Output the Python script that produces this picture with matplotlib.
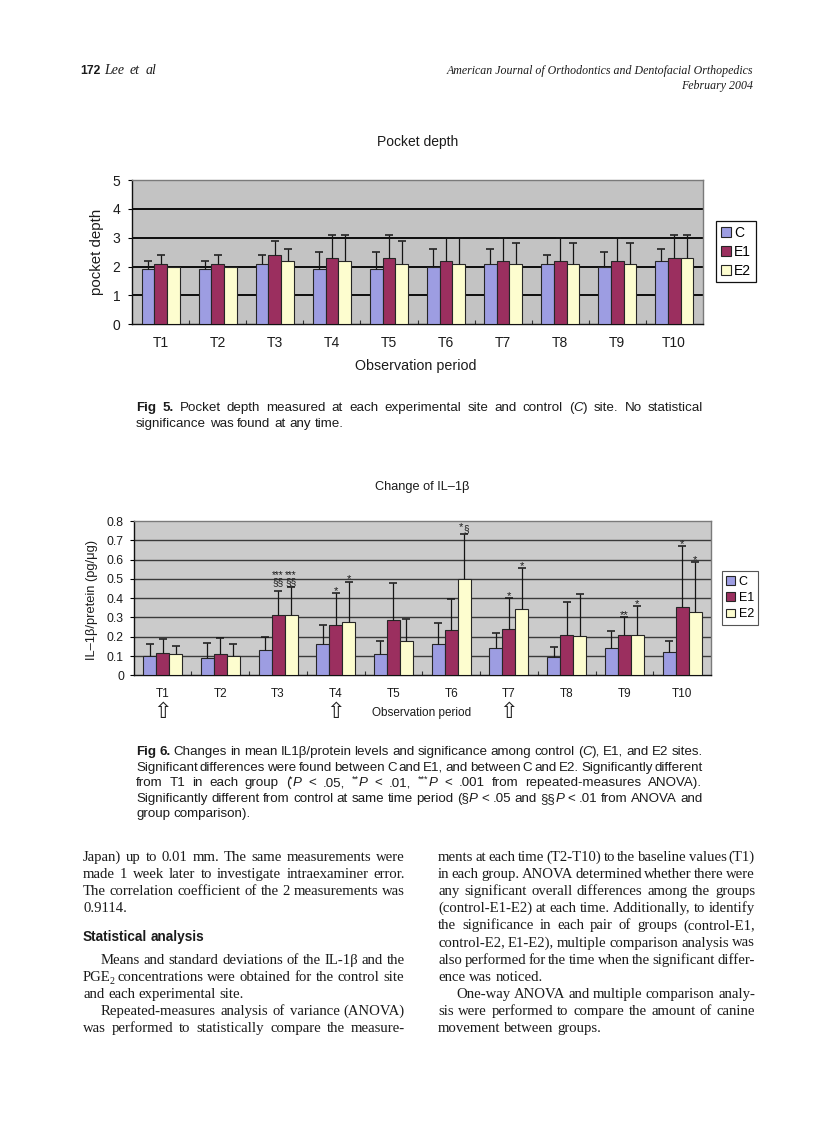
import re
import numpy as np
import matplotlib
matplotlib.use("Agg")
import matplotlib.pyplot as plt

# ---------------- data ----------------
periods = ["T1", "T2", "T3", "T4", "T5", "T6", "T7", "T8", "T9", "T10"]
groups = ["C", "E1", "E2"]

# Fig 5: pocket depth (mm)
pd_C = [1.9, 1.9, 2.1, 1.9, 1.9, 2.0, 2.1, 2.1, 2.0, 2.2]
pd_E1 = [2.1, 2.1, 2.4, 2.3, 2.3, 2.2, 2.2, 2.2, 2.2, 2.3]
pd_E2 = [2.0, 2.0, 2.2, 2.2, 2.1, 2.1, 2.1, 2.1, 2.1, 2.3]
pd_C_sd = [0.3, 0.3, 0.3, 0.6, 0.6, 0.6, 0.5, 0.3, 0.5, 0.4]
pd_E1_sd = [0.3, 0.3, 0.5, 0.8, 0.8, 0.8, 0.8, 0.8, 0.8, 0.8]
pd_E2_sd = [0.0, 0.0, 0.4, 0.9, 0.8, 0.9, 0.7, 0.7, 0.7, 0.8]
pd_yticks = [0, 1, 2, 3, 4, 5]

# Fig 6: IL-1beta / protein (pg/ug)
il_C = [0.10, 0.09, 0.13, 0.16, 0.11, 0.16, 0.14, 0.095, 0.14, 0.12]
il_E1 = [0.115, 0.11, 0.315, 0.26, 0.285, 0.235, 0.24, 0.21, 0.21, 0.355]
il_E2 = [0.11, 0.10, 0.315, 0.275, 0.18, 0.50, 0.345, 0.205, 0.21, 0.33]
il_C_sd = [0.06, 0.08, 0.07, 0.10, 0.07, 0.11, 0.08, 0.05, 0.09, 0.06]
il_E1_sd = [0.075, 0.085, 0.12, 0.165, 0.195, 0.16, 0.16, 0.17, 0.09, 0.315]
il_E2_sd = [0.04, 0.06, 0.145, 0.21, 0.11, 0.235, 0.21, 0.215, 0.15, 0.255]
il_yticks = [0, 0.1, 0.2, 0.3, 0.4, 0.5, 0.6, 0.7, 0.8]
il_yticklabels = ["0", "0.1", "0.2", "0.3", "0.4", "0.5", "0.6", "0.7", "0.8"]
# significance marks: (period index, group index, stars, section marks)
il_marks = [(2, 1, "***", "§§"), (2, 2, "***", "§§"),
            (3, 1, "*", ""), (3, 2, "*", ""),
            (5, 2, "*", "§"),
            (6, 1, "*", ""), (6, 2, "*", ""),
            (8, 1, "**", ""), (8, 2, "*", ""),
            (9, 1, "*", ""), (9, 2, "*", "")]
arrow_periods = [0, 3, 6]

# ---------------- page ----------------
W, H = 838, 1122
fig = plt.figure(figsize=(W / 100, H / 100), dpi=100)
fig.patch.set_facecolor("white")
renderer = fig.canvas.get_renderer()
PX = 100 / 72.0

COLORS = ["#9d9de2", "#9b2f5f", "#fdfdcf"]
CHART_FONT = ["Liberation Sans", "DejaVu Sans"]
SERIF = ["Liberation Serif", "DejaVu Serif"]
SANS = ["Liberation Sans", "DejaVu Sans"]
TXT = "#1b1b1b"


def rect(l, t, r, b):
    return [l / W, 1 - b / H, (r - l) / W, (b - t) / H]


def bar_chart(ax, vals, sds, bg, fs):
    x = np.arange(len(periods))
    w = 0.225
    ax.set_facecolor(bg)
    for k in range(3):
        v = np.array(vals[k], float)
        s = np.array(sds[k], float)
        xs = x + (k - 1) * w
        ax.bar(xs, v, w, color=COLORS[k], edgecolor="#262626", lw=0.8,
               label=groups[k], zorder=3)
        m = s > 0
        ax.vlines(xs[m], v[m], (v + s)[m], color="#151515", lw=0.9, zorder=4)
        ax.plot(xs[m], (v + s)[m], ls="none", marker="_", ms=6, mew=1.1,
                color="#151515", zorder=4)
    ax.set_xlim(-0.5, len(periods) - 0.5)
    for sp in ["left", "bottom"]:
        ax.spines[sp].set_color("#111111")
        ax.spines[sp].set_linewidth(1.0)
    for sp in ["top", "right"]:
        ax.spines[sp].set_color("#7a7a7a")
        ax.spines[sp].set_linewidth(1.0)
    ax.set_xticks(x)
    ax.set_xticklabels(periods)
    ax.set_xticks(np.arange(0.5, len(periods) - 0.5), minor=True)
    ax.tick_params(axis="x", which="major", length=0, labelsize=fs,
                   labelcolor=TXT)
    ax.tick_params(axis="x", which="minor", direction="in", length=3,
                   width=0.8, color="#333333")
    return x, w


# ---------------- Fig 5 ----------------
ax1 = fig.add_axes(rect(132.3, 180, 702.7, 324.3))
bar_chart(ax1, [pd_C, pd_E1, pd_E2], [pd_C_sd, pd_E1_sd, pd_E2_sd],
          "#c3c3c3", 10)
for yv in pd_yticks[1:-1]:
    ax1.axhline(yv, color="#0d0d0d", lw=1.4, zorder=1)
ax1.set_ylim(0, 5)
ax1.set_yticks(pd_yticks)
ax1.tick_params(axis="y", length=3, width=0.8, pad=5.5, labelsize=10,
                labelcolor=TXT)
ax1.tick_params(axis="x", which="major", pad=8.5)
for lab in ax1.get_xticklabels() + ax1.get_yticklabels():
    lab.set_family(CHART_FONT)
ax1.set_xlabel("Observation period", fontsize=10.3, family=CHART_FONT,
               color=TXT, va="center")
ax1.xaxis.set_label_coords(0.497, -0.289)
ax1.set_ylabel("pocket depth", fontsize=10.8, family=CHART_FONT,
               color=TXT, va="center")
ax1.yaxis.set_label_coords(-0.062, 0.5)
ax1.set_title("Pocket depth", fontsize=10, family=CHART_FONT, color=TXT,
              y=1.263, va="center", pad=0)
leg1 = ax1.legend(loc="center left", bbox_to_anchor=(1.0233, 0.503),
                  prop={"family": CHART_FONT, "size": 10},
                  frameon=True, fancybox=False, framealpha=1,
                  edgecolor="#111111", handlelength=0.75, handleheight=0.75,
                  handletextpad=0.2, borderpad=0.35, labelspacing=0.35,
                  borderaxespad=0)
leg1.get_frame().set_linewidth(0.9)

# ---------------- Fig 6 ----------------
ax2 = fig.add_axes(rect(133.7, 521, 711, 675.3))
il_vals = [il_C, il_E1, il_E2]
il_sds = [il_C_sd, il_E1_sd, il_E2_sd]
x2, w2 = bar_chart(ax2, il_vals, il_sds, "#cbcbcb", 8.5)
for yv in il_yticks[1:-1]:
    ax2.axhline(yv, color="#3a3a3a", lw=1.0, zorder=1)
ax2.set_ylim(0, 0.8)
ax2.set_yticks(il_yticks)
ax2.set_yticklabels(il_yticklabels)
ax2.tick_params(axis="y", length=3, width=0.8, pad=4, labelsize=8.7,
                labelcolor=TXT)
ax2.tick_params(axis="x", which="major", pad=9)
for lab in ax2.get_xticklabels() + ax2.get_yticklabels():
    lab.set_family(CHART_FONT)
ax2.set_xlabel("Observation period", fontsize=8.5, family=CHART_FONT,
               color=TXT, va="center")
ax2.xaxis.set_label_coords(0.499, -0.244)
ax2.set_ylabel("IL–1β/pretein (pg/μg)", fontsize=9.3, family=CHART_FONT,
               color=TXT, va="center")
ax2.yaxis.set_label_coords(-0.072, 0.488)
ax2.set_title("Change of IL–1β", fontsize=9.2, family=CHART_FONT, color=TXT,
              y=1.22, va="center", pad=0)
leg2 = ax2.legend(loc="center left", bbox_to_anchor=(1.0185, 0.501),
                  prop={"family": CHART_FONT, "size": 9},
                  frameon=True, fancybox=False, framealpha=1,
                  edgecolor="#555555", handlelength=0.7, handleheight=0.7,
                  handletextpad=0.3, borderpad=0.35, labelspacing=0.35,
                  borderaxespad=0)
leg2.get_frame().set_linewidth(0.8)

# significance marks
STAR_FS = 8.2
for (pi, gi, stars, secs) in il_marks:
    xx = x2[pi] + (gi - 1) * w2
    top = il_vals[gi][pi] + il_sds[gi][pi]
    if stars and secs and len(secs) == 1:
        ax2.annotate(stars, (xx, top), xytext=(-2.5, 4.3),
                     textcoords="offset points", ha="center", va="center",
                     fontsize=STAR_FS, color=TXT, family=CHART_FONT)
        ax2.annotate(secs, (xx, top), xytext=(1.8, 3.4),
                     textcoords="offset points", ha="center", va="center",
                     fontsize=7.2, color=TXT, family=CHART_FONT)
    elif secs:
        # marks at this period share one level, above the highest bar
        lvl = max(il_vals[g][pi] + il_sds[g][pi]
                  for (p2, g, s2, c2) in il_marks if p2 == pi)
        ax2.annotate(stars + "\n" + secs, (xx, lvl), xytext=(0, 6.0),
                     textcoords="offset points", ha="center", va="center",
                     multialignment="center", linespacing=0.62,
                     fontsize=7.2, color=TXT, family=CHART_FONT)
    else:
        ax2.annotate(stars, (xx, top), xytext=(0, 1.6),
                     textcoords="offset points", ha="center", va="center",
                     fontsize=STAR_FS, color=TXT, family=CHART_FONT)

# hollow up arrows under T1, T4, T7
for pi in arrow_periods:
    ax2.text(x2[pi], -0.240, "⇧", transform=ax2.get_xaxis_transform(),
             ha="center", va="center", fontsize=16, color="#222222",
             family=["DejaVu Sans"])


# ---------------- rich text helpers ----------------
def parse(s):
    toks = re.split(r"(\{/?(?:b|i|sup|sub)\})", s)
    st = {"b": False, "i": False, "sup": False, "sub": False}
    chars = []
    for tok in toks:
        m = re.fullmatch(r"\{(/?)(b|i|sup|sub)\}", tok)
        if m:
            st[m.group(2)] = (m.group(1) == "")
            continue
        for ch in tok:
            chars.append((ch, (st["b"], st["i"], st["sup"], st["sub"])))
    words, cur = [], []
    for ch, s_ in chars:
        if ch == " ":
            if cur:
                words.append(cur)
                cur = []
        else:
            cur.append((ch, s_))
    if cur:
        words.append(cur)
    out = []
    for wd in words:
        runs = []
        for ch, s_ in wd:
            if runs and runs[-1][1] == s_:
                runs[-1][0] += ch
            else:
                runs.append([ch, s_])
        out.append(runs)
    return out


def put(x, y, txt, st, size, family, color):
    b, i, sup, sub = st
    fs = size * 0.68 if (sup or sub) else size
    dy = -size * 0.36 * PX if sup else (size * 0.18 * PX if sub else 0)
    return fig.text(x / W, 1 - (y + dy) / H, txt, fontsize=fs,
                    fontweight="bold" if b else "normal",
                    fontstyle="italic" if i else "normal",
                    family=family, va="baseline", ha="left", color=color)


def line(s, x0, x1, y, justify, size, family, color=TXT, space=0.25):
    words = parse(s)
    objs, widths = [], []
    for wd in words:
        lst, tot = [], 0.0
        for txt, st in wd:
            t = put(0, y, txt, st, size, family, color)
            ww = t.get_window_extent(renderer).width
            if st[3]:
                ww = max(ww - 1.0, 0)
            lst.append((t, ww))
            tot += ww
        objs.append(lst)
        widths.append(tot)
    n = len(words)
    if justify and n > 1:
        gap = (x1 - x0 - sum(widths)) / (n - 1)
    else:
        gap = size * PX * space
    x = x0
    for lst, tot in zip(objs, widths):
        for k, (t, ww) in enumerate(lst):
            if k + 1 < len(lst) and lst[k + 1][0].get_fontsize() < t.get_fontsize() * 0.9:
                ww -= 1.2   # tighten before sub/superscript
            t.set_x(x / W)
            x += ww
        x += gap


# ---------------- header ----------------
line("{b}172{/b}", 80, 0, 74, False, 8.8, SANS)
line("{i}Lee et al{/i}", 104, 0, 74, False, 10, SERIF, space=0.42)
for yy, s in [(74, "American Journal of Orthodontics and Dentofacial Orthopedics"),
              (89, "February 2004")]:
    fig.text(753 / W, 1 - yy / H, s, fontsize=8.6, fontstyle="italic",
             family=SERIF, ha="right", va="baseline", color=TXT)

# ---------------- captions ----------------
CS = 9.6
cap5 = [("{b}Fig 5.{/b} Pocket depth measured at each experimental site and control ({i}C{/i}) site. No statistical", True),
        ("significance was found at any time.", False)]
for k, (s, j) in enumerate(cap5):
    line(s, 136, 703, 411 + 15.6 * k, j, CS, SANS, space=0.278)

cap6 = [("{b}Fig 6.{/b} Changes in mean IL1β/protein levels and significance among control ({i}C{/i}), E1, and E2 sites.", True),
        ("Significant differences were found between C and E1, and between C and E2. Significantly different", True),
        ("from T1 in each group ({sup}*{/sup}{i}P{/i} < .05, {sup}**{/sup}{i}P{/i} < .01, {sup}***{/sup}{i}P{/i} < .001 from repeated-measures ANOVA).", True),
        ("Significantly different from control at same time period (§{i}P{/i} < .05 and §§{i}P{/i} < .01 from ANOVA and", True),
        ("group comparison).", False)]
for k, (s, j) in enumerate(cap6):
    line(s, 136, 703, 755 + 15.6 * k, j, CS, SANS, space=0.278)

# ---------------- body text ----------------
BS = 10.6
left = [("Japan) up to 0.01 mm. The same measurements were", True, 83),
        ("made 1 week later to investigate intraexaminer error.", True, 83),
        ("The correlation coefficient of the 2 measurements was", True, 83),
        ("0.9114.", False, 83)]
for k, (s, j, x0) in enumerate(left):
    line(s, x0, 405, 861 + 17.1 * k, j, BS, SERIF)
line("{b}Statistical analysis{/b}", 83, 0, 941, False, 9.8, SANS)
left2 = [("Means and standard deviations of the IL-1β and the", True, 101),
         ("PGE{sub}2{/sub} concentrations were obtained for the control site", True, 83),
         ("and each experimental site.", False, 83),
         ("Repeated-measures analysis of variance (ANOVA)", True, 101),
         ("was performed to statistically compare the measure-", True, 83)]
for k, (s, j, x0) in enumerate(left2):
    line(s, x0, 405, 964 + 17.1 * k, j, BS, SERIF)

right = [("ments at each time (T2-T10) to the baseline values (T1)", True, 438),
         ("in each group. ANOVA determined whether there were", True, 438),
         ("any significant overall differences among the groups", True, 438),
         ("(control-E1-E2) at each time. Additionally, to identify", True, 438),
         ("the significance in each pair of groups (control-E1,", True, 438),
         ("control-E2, E1-E2), multiple comparison analysis was", True, 438),
         ("also performed for the time when the significant differ-", True, 438),
         ("ence was noticed.", False, 438),
         ("One-way ANOVA and multiple comparison analy-", True, 456),
         ("sis were performed to compare the amount of canine", True, 438),
         ("movement between groups.", False, 438)]
for k, (s, j, x0) in enumerate(right):
    line(s, x0, 755, 861 + 17.1 * k, j, BS, SERIF)

fig.savefig("out.png", dpi=100, facecolor="white")
